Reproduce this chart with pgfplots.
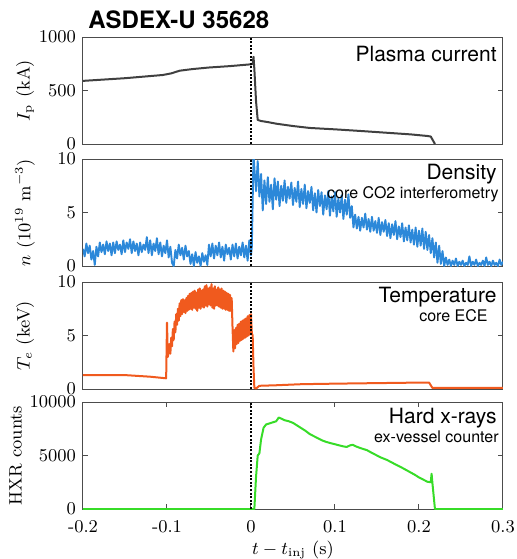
\documentclass[border=0pt]{standalone}
\usepackage{fontspec}
\usepackage{pgfplots}
\pgfplotsset{compat=1.18}
\newfontfamily\hv{TeX Gyre Heros}
\definecolor{ipcol}{RGB}{64,64,64}
\definecolor{necol}{RGB}{44,136,217}
\definecolor{tecol}{RGB}{240,90,30}
\definecolor{hxcol}{RGB}{55,220,40}
\tikzset{
  big/.style={anchor=base east, inner sep=0pt, font=\hv\fontsize{10.5}{12}\selectfont},
  small/.style={anchor=base east, inner sep=0pt, font=\hv\fontsize{8}{9}\selectfont},
}
\pgfplotsset{
  panel/.style={
    width=210pt, height=53.5pt, scale only axis,
    anchor=north west,
    xmin=-0.2, xmax=0.3,
    axis line style={black!70, line width=0.5pt},
    tick style={black!70, line width=0.5pt},
    major tick length=2.5pt,
    tick align=inside,
    xtick=\empty,
    scaled y ticks=false,
    tick label style={font=\fontsize{9}{10}\selectfont},
    label style={font=\fontsize{9}{10}\selectfont},
    ylabel style={at={(axis description cs:-0.138,0.5)}, anchor=center},
    clip=true,
  },
  sig/.style={line width=1pt, line join=round},
  inj/.style={black, line width=1.1pt, dash pattern=on 1pt off 0.8pt},
}
\begin{document}
\begin{tikzpicture}
\path[use as bounding box] (-41.5pt,18.5pt) rectangle (217pt,-261pt);

% Plasma current
\begin{axis}[panel, at={(0pt,0pt)}, name=p1,
  ymin=0, ymax=1000, ytick={0,500,1000}, yticklabels={0,500,1000},
  ylabel={$I_\mathrm{p}$ (kA)}]
\addplot[sig, ipcol] coordinates {(-0.2,590)(-0.15,615)(-0.12,635)(-0.105,645)(-0.095,660)(-0.085,685)(-0.07,700)(-0.05,715)(-0.025,728)(0,745)(0.002,750)(0.003,815)(0.004,700)(0.006,400)(0.008,225)(0.012,215)(0.02,205)(0.03,190)(0.05,168)(0.07,150)(0.1,137)(0.13,122)(0.16,106)(0.19,90)(0.21,75)(0.214,70)(0.219,0)};
\addplot[inj] coordinates {(0,0)(0,1000)};
\node[big] at (rel axis cs:1,1) [xshift=-3pt, yshift=-12pt] {Plasma current};
\end{axis}
\node[anchor=base west, inner sep=0pt, font=\hv\bfseries\fontsize{12}{14}\selectfont] at (0pt,0pt) [xshift=2.5pt, yshift=4.5pt] {ASDEX-U 35628};

% Density
\begin{axis}[panel, at={(0pt,-61pt)},
  ymin=0, ymax=10, ytick={0,5,10},
  ylabel={$n$ ($10^{19}$ m$^{-3}$)}]
\addplot[sig, necol, line width=0.95pt] coordinates {
(-0.200,1.6)(-0.198,0.9)(-0.196,2.1)(-0.194,1.2)(-0.192,1.9)(-0.190,0.6)(-0.188,1.4)(-0.186,0.1)(-0.184,1.8)(-0.182,0.9)
(-0.180,2.2)(-0.178,1.3)(-0.176,2.0)(-0.174,1.1)(-0.172,2.3)(-0.170,1.4)(-0.168,2.1)(-0.166,1.0)(-0.164,2.2)(-0.162,1.2)
(-0.160,2.3)(-0.158,1.5)(-0.156,2.0)(-0.154,1.1)(-0.152,2.4)(-0.150,1.3)(-0.148,2.2)(-0.146,1.6)(-0.144,2.5)(-0.142,1.2)
(-0.140,2.3)(-0.138,1.4)(-0.136,2.1)(-0.134,1.0)(-0.132,2.2)(-0.130,1.3)(-0.128,2.0)(-0.126,1.5)(-0.124,2.7)(-0.122,1.2)
(-0.120,2.4)(-0.118,1.0)(-0.116,2.1)(-0.114,1.4)(-0.112,2.6)(-0.110,1.1)(-0.108,2.2)(-0.106,0.9)(-0.104,1.9)(-0.102,1.2)
(-0.100,2.4)(-0.098,0.8)(-0.096,1.8)(-0.094,0.3)(-0.092,0.0)(-0.090,1.5)(-0.088,0.7)(-0.086,2.0)(-0.084,1.0)(-0.082,1.7)
(-0.080,0.6)(-0.078,1.9)(-0.076,0.9)(-0.074,1.4)(-0.072,0.2)(-0.070,1.1)(-0.068,0.0)(-0.066,1.3)(-0.064,0.3)(-0.062,0.9)
(-0.060,0.0)(-0.058,1.2)(-0.056,0.4)(-0.054,1.0)(-0.052,0.1)(-0.050,2.0)(-0.048,0.9)(-0.046,2.1)(-0.044,0.7)(-0.042,1.9)
(-0.040,1.0)(-0.038,2.2)(-0.036,0.8)(-0.034,1.8)(-0.032,0.5)(-0.030,2.0)(-0.028,1.1)(-0.026,1.7)(-0.024,0.6)(-0.022,2.0)
(-0.020,0.9)(-0.018,2.1)(-0.016,0.7)(-0.014,1.8)(-0.012,1.0)(-0.010,2.2)(-0.008,0.8)(-0.006,1.9)(-0.004,0.5)(-0.002,2.4)
(0.000,1.0)(0.001,1.8)(0.002,6.0)(0.003,10.5)
(0.004,9.2)(0.006,7.0)(0.008,9.8)(0.010,6.5)(0.012,8.6)(0.014,5.2)(0.016,8.0)(0.018,5.8)(0.020,8.3)(0.022,6.0)
(0.024,7.6)(0.026,5.3)(0.028,8.2)(0.030,6.2)(0.032,7.9)(0.034,5.6)(0.036,7.5)(0.038,6.1)(0.040,8.0)(0.042,5.9)
(0.044,7.4)(0.046,6.3)(0.048,7.8)(0.050,5.7)(0.052,7.3)(0.054,6.0)(0.056,7.9)(0.058,5.5)(0.060,7.2)(0.062,5.8)
(0.064,7.6)(0.066,5.4)(0.068,7.0)(0.070,5.9)(0.072,7.4)(0.074,5.2)(0.076,6.8)(0.078,5.0)(0.080,7.1)(0.082,5.6)
(0.084,6.9)(0.086,4.8)(0.088,6.6)(0.090,5.3)(0.092,7.0)(0.094,4.7)(0.096,6.5)(0.098,5.1)(0.100,6.9)(0.102,4.6)
(0.104,6.3)(0.106,5.0)(0.108,6.6)(0.110,4.4)(0.112,6.2)(0.114,4.8)(0.116,6.7)(0.118,4.5)(0.120,5.6)(0.122,3.6)
(0.124,4.8)(0.126,3.5)(0.128,4.6)(0.130,3.3)(0.132,4.5)(0.134,3.6)(0.136,4.9)(0.138,3.4)(0.140,4.4)(0.142,3.2)
(0.144,4.6)(0.146,3.3)(0.148,4.2)(0.150,3.1)(0.152,4.5)(0.154,2.9)(0.156,4.1)(0.158,3.2)(0.160,4.3)(0.162,2.8)
(0.164,4.0)(0.166,2.6)(0.168,3.9)(0.170,2.9)(0.172,4.2)(0.174,2.5)(0.176,3.7)(0.178,2.7)(0.180,4.0)(0.182,2.3)
(0.184,3.6)(0.186,2.4)(0.188,3.8)(0.190,2.2)(0.192,3.4)(0.194,2.0)(0.196,3.6)(0.198,1.8)(0.200,3.3)(0.202,1.9)
(0.204,3.5)(0.206,1.6)(0.208,3.2)(0.210,1.5)(0.212,2.9)(0.214,1.2)(0.216,2.6)(0.218,0.8)(0.220,2.2)(0.222,0.3)
(0.224,1.9)(0.226,0.2)(0.228,1.4)(0.230,0.0)(0.232,0.8)(0.234,0.1)(0.236,0.6)(0.238,0.0)(0.240,0.5)(0.242,0.1)
(0.244,0.7)(0.246,0.0)(0.248,0.4)(0.250,0.1)(0.252,0.5)(0.254,0.0)(0.256,0.3)(0.258,0.1)(0.260,0.9)(0.262,0.0)
(0.264,0.4)(0.266,0.1)(0.268,0.6)(0.270,0.0)(0.272,0.3)(0.274,0.1)(0.276,0.5)(0.278,0.0)(0.280,0.8)(0.282,0.1)
(0.284,0.4)(0.286,0.0)(0.288,0.5)(0.290,0.1)(0.292,0.3)(0.294,0.0)(0.296,0.6)(0.298,0.1)(0.300,0.4)};
\addplot[inj] coordinates {(0,0)(0,10)};
\node[big] at (rel axis cs:1,1) [xshift=-3pt, yshift=-10pt] {Density};
\node[small] at (rel axis cs:1,1) [xshift=-2pt, yshift=-19.5pt] {core CO2 interferometry};
\end{axis}

% Temperature
\begin{axis}[panel, at={(0pt,-122.5pt)},
  ymin=0, ymax=10, ytick={0,5,10},
  ylabel={$T_e$ (keV)}]
\addplot[sig, tecol] coordinates {
(-0.2,1.3)(-0.15,1.3)(-0.12,1.15)(-0.101,1.0)(-0.1,6.2)(-0.099,3.0)(-0.098,3.5)
(-0.097,4.2)(-0.096,3.3)(-0.095,4.8)(-0.094,4.0)(-0.093,5.6)(-0.092,4.6)(-0.091,6.3)(-0.090,5.3)(-0.089,7.0)(-0.088,6.0)
(-0.087,7.5)(-0.086,6.4)(-0.085,8.0)(-0.084,6.8)(-0.083,8.3)(-0.082,7.0)(-0.081,8.4)(-0.080,7.2)(-0.079,8.3)(-0.078,7.1)
(-0.077,8.5)(-0.076,7.3)(-0.075,8.7)(-0.074,7.4)(-0.073,8.9)(-0.072,7.5)(-0.071,9.0)(-0.070,7.4)(-0.069,9.1)(-0.068,7.6)
(-0.067,9.2)(-0.066,7.5)(-0.065,9.0)(-0.064,7.3)(-0.063,9.3)(-0.062,7.6)(-0.061,9.4)(-0.060,7.5)(-0.059,9.2)(-0.058,7.7)
(-0.057,9.3)(-0.056,7.6)(-0.055,9.6)(-0.054,7.8)(-0.053,9.7)(-0.052,7.7)(-0.051,9.4)(-0.050,7.9)(-0.049,9.5)(-0.048,7.8)
(-0.047,9.8)(-0.046,7.6)(-0.045,9.4)(-0.044,7.5)(-0.043,9.6)(-0.042,7.8)(-0.041,9.3)(-0.040,7.8)(-0.039,9.5)(-0.038,7.7)
(-0.037,9.3)(-0.036,7.6)(-0.035,9.4)(-0.034,7.5)(-0.033,9.2)(-0.032,7.5)(-0.031,9.1)(-0.030,7.4)(-0.029,9.0)(-0.028,7.4)
(-0.027,8.9)(-0.026,7.3)(-0.025,8.8)(-0.024,7.3)(-0.023,8.5)(-0.022,5.8)(-0.021,3.5)(-0.020,5.5)(-0.019,3.8)(-0.018,5.7)
(-0.017,4.2)(-0.016,6.0)(-0.015,4.3)(-0.014,6.1)(-0.013,4.5)(-0.012,6.3)(-0.011,4.6)(-0.010,6.4)(-0.009,4.7)(-0.008,6.5)
(-0.007,4.8)(-0.006,6.6)(-0.005,4.9)(-0.004,6.8)(-0.003,5.0)(-0.002,6.9)(-0.001,5.1)(0.000,7.0)(0.001,5.2)(0.002,5.0)
(0.003,2.0)(0.004,0.1)(0.006,0.05)(0.01,0.3)(0.03,0.35)(0.06,0.45)(0.1,0.5)(0.15,0.55)(0.2,0.6)(0.212,0.6)(0.216,0.1)(0.3,0.1)};
\addplot[inj] coordinates {(0,0)(0,10)};
\node[big] at (rel axis cs:1,1) [xshift=-3pt, yshift=-10pt] {Temperature};
\node[small] at (rel axis cs:1,1) [xshift=-7.5pt, yshift=-19.5pt] {core ECE};
\end{axis}

% Hard x-rays
\begin{axis}[panel, at={(0pt,-182.5pt)},
  ymin=0, ymax=10000, ytick={0,5000,10000}, yticklabels={0,5000,10000},
  xtick={-0.2,-0.1,0,0.1,0.2,0.3},
  xticklabels={-0.2,-0.1,0,0.1,0.2,0.3},
  xticklabel style={yshift=-2pt},
  ylabel={HXR counts},
  ylabel style={at={(axis description cs:-0.16,0.5)}},
  xlabel={$t - t_\mathrm{inj}$ (s)},
  xlabel style={yshift=2.5pt}]
\addplot[sig, hxcol] coordinates {(-0.2,0)(0.004,0)(0.006,3000)(0.008,5000)(0.010,5200)(0.012,6500)(0.015,7600)(0.018,7900)(0.022,8000)(0.026,8100)(0.030,8200)(0.033,8550)(0.036,8450)(0.040,8300)(0.045,8200)(0.050,8050)(0.055,7800)(0.060,7550)(0.065,7300)(0.070,7000)(0.075,6800)(0.080,6600)(0.085,6400)(0.090,6260)(0.095,6150)(0.100,6050)(0.105,5950)(0.110,5850)(0.114,5800)(0.118,5950)(0.121,6000)(0.125,5850)(0.130,5700)(0.138,5500)(0.145,5200)(0.150,5000)(0.155,4800)(0.162,4580)(0.170,4250)(0.180,3850)(0.189,3460)(0.195,3200)(0.200,2950)(0.205,2750)(0.210,2550)(0.214,2500)(0.215,3300)(0.216,2400)(0.219,0)(0.3,0)};
\addplot[inj] coordinates {(0,0)(0,10000)};
\node[big] at (rel axis cs:1,1) [xshift=-3pt, yshift=-10.5pt] {Hard x-rays};
\node[small] at (rel axis cs:1,1) [xshift=-2pt, yshift=-20pt] {ex-vessel counter};
\end{axis}
\end{tikzpicture}
\end{document}
